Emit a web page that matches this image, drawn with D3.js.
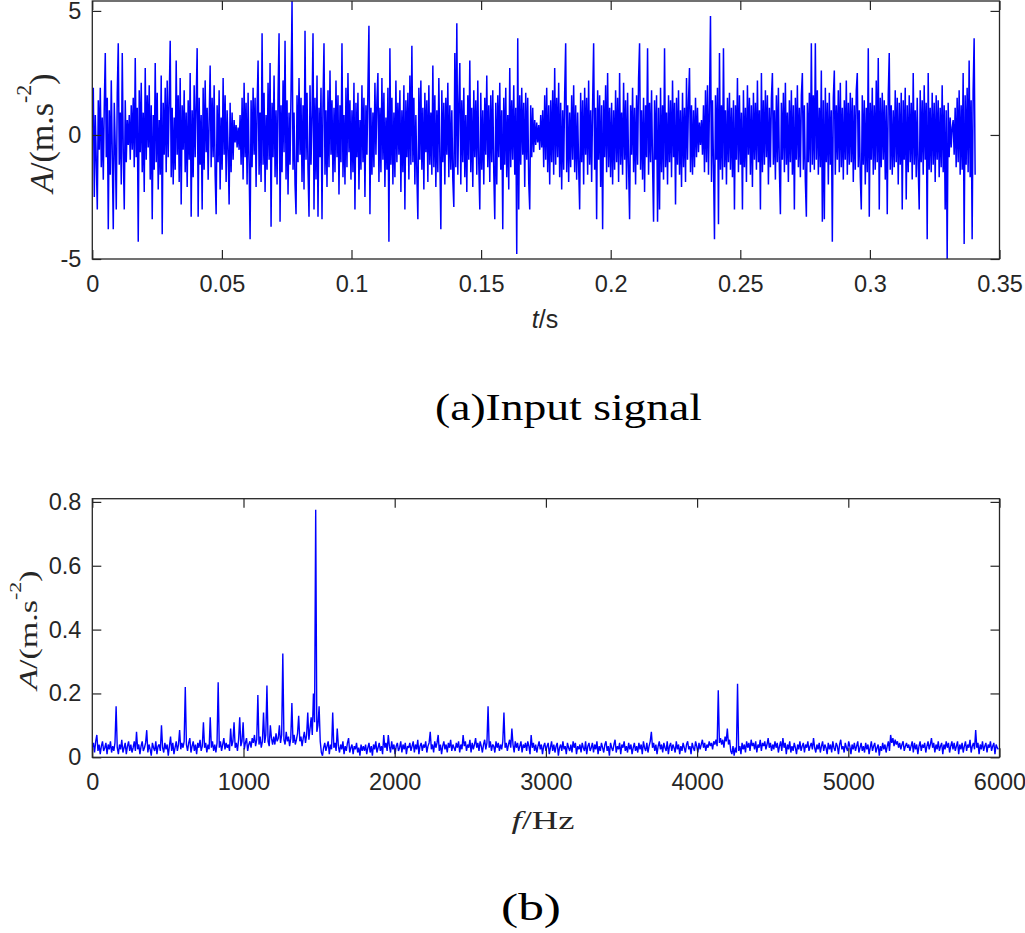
<!DOCTYPE html>
<html>
<head>
<meta charset="utf-8">
<script src="https://cdn.jsdelivr.net/npm/d3@7"></script>
<style>
  html, body { margin: 0; padding: 0; background: #fff; }
  svg { display: block; }
</style>
</head>
<body>
<div id="chart"></div>
<script>
// ── Data ──
// (a) time signal, evenly sampled from t = 0 to t = SIGNAL_END (s)
const SIGNAL_END = 0.3406;
const signalValues = [
  0.3, 1.9, -2.5, 0.8, -1.1, -3.0, 1.4, -0.6, 1.9, -1.3, 0.7, -1.8, 1.2, 3.3, -0.9, 1.5, -3.8, 1.0, -1.6, 2.2,
  -0.8, -3.8, 1.3, -0.5, -3.0, 1.7, 3.7, -1.2, 0.9, -2.0, 3.3, -0.7, -3.0, 1.4, -1.1, 0.6, -0.4, 0.8, -1.0, 1.2,
  -0.6, 1.5, -1.3, 3.1, -0.9, 1.1, -4.3, 1.8, -0.7, 2.1, -1.5, 0.9, -2.3, 2.7, -1.0, 1.6, -0.5, 2.0, -1.8, 1.2,
  -3.4, 0.8, -1.4, 2.9, -1.1, 1.7, -2.2, 0.6, -1.6, 2.4, -4.0, 1.3, -0.8, 1.9, -1.5, 2.2, -0.9, 1.4, 3.8, -1.7,
  1.1, -2.0, 0.7, -1.4, 3.0, -0.8, 1.6, -1.9, 2.3, -2.8, 1.2, -0.6, 1.8, -1.5, 0.9, -2.1, 1.4, -1.0, 2.5, -3.3,
  1.0, -1.7, 2.0, -0.9, 1.3, 3.5, -3.3, 1.5, -1.2, 0.8, -3.0, 1.9, -1.4, 2.2, -0.7, 1.1, -1.8, 0.6, 2.8, -1.3,
  1.5, -0.9, 2.0, -1.6, -3.2, 1.2, -1.1, 1.8, -2.2, 0.7, -1.4, 2.3, -0.8, 1.6, -1.9, 1.0, -0.6, -2.8, 1.3, -1.5,
  0.9, -1.0, 0.6, -0.3, 0.4, -0.5, 0.3, -0.6, 0.8, -1.2, 1.5, -1.8, 2.1, -0.9, 1.3, -2.0, 1.7, -1.1, -4.2, 1.4,
  -1.3, 1.9, -0.8, 1.5, -2.1, 1.1, 3.0, -1.6, 0.9, -1.9, 4.1, -1.2, 1.7, -2.3, 0.8, -1.4, 2.1, -1.0, 2.9, -3.7,
  1.3, -0.9, 2.4, -1.7, 1.0, -2.0, 1.6, 4.1, -3.5, 1.2, -1.5, 2.2, -0.7, 3.8, -1.8, 1.4, -2.4, 0.9, -1.2, 1.8,
  5.4, -1.4, 0.9, -2.0, -3.2, 1.6, -1.1, 2.3, -0.8, 1.5, -1.9, 1.2, -2.2, 4.2, -1.0, 1.7, -1.4, -3.3, 2.0, -1.2,
  0.8, 4.1, -3.0, 1.5, -1.8, 2.4, -3.3, 1.1, -0.9, 1.9, -3.4, 1.3, 3.7, -1.6, 1.0, -2.1, 1.8, -1.3, 2.6, -0.8,
  1.4, -1.9, 1.1, -1.5, 2.2, -0.9, 1.6, -2.4, 1.2, -1.1, 3.7, -1.7, 0.8, -2.0, 1.9, -1.3, 2.5, -0.7, 1.4, -1.8,
  1.0, -1.5, 2.1, -3.0, 1.3, -0.9, 1.7, -2.2, 0.6, -1.4, 2.0, -1.1, 1.5, -2.5, 1.2, -0.8, 1.9, 4.4, -3.2, 1.1,
  -1.6, 0.9, -1.3, 2.1, -0.8, 1.4, 2.5, -1.9, 1.1, -1.5, 2.3, -1.0, 1.7, -2.1, 0.7, -1.4, 1.9, -4.3, 3.5, -1.2,
  1.5, -2.0, 0.9, -1.7, 2.2, -1.1, 1.3, -0.8, 1.8, -2.3, 1.0, -1.5, 2.0, -3.0, 1.4, -0.9, 1.7, -1.8, 2.4, -1.2,
  3.6, -1.1, 1.5, -2.0, 0.8, -1.6, -3.4, 1.9, -1.0, 2.2, -1.4, 1.1, -2.2, 1.7, -0.7, 1.4, -1.9, 2.0, -1.2, 0.9,
  -1.6, 2.8, -1.3, 1.6, -2.1, 1.0, -1.5, 2.3, -0.9, -3.8, 1.8, -1.1, 1.3, -2.0, 1.5, -0.8, 2.1, -1.7, 1.2, -1.4,
  1.0, -1.8, -2.9, 3.3, -1.3, 4.5, -1.6, 1.2, 2.9, -2.0, 1.4, -1.1, 1.9, -1.7, 0.8, -2.3, 1.6, -1.0, 3.0, -1.5,
  1.1, -2.1, 1.8, -0.9, 1.4, -1.6, 2.2, -1.2, -3.0, 1.7, -1.4, 1.0, -2.0, 1.5, -0.8, 2.4, -1.3, 1.2, -1.9, 1.6,
  -1.1, 1.8, -1.5, -3.4, 1.3, -2.0, 1.6, -0.9, 2.1, -1.4, 1.0, -3.8, 1.5, -1.2, 1.9, -1.7, 0.8, -2.2, 2.7, -1.3,
  1.4, -1.0, 2.0, -1.6, 1.1, -4.8, 3.9, -3.0, 1.6, -1.2, 1.9, -0.8, 1.3, -2.1, 1.7, -1.0, 1.5, -1.9, -3.0, 1.2,
  -0.9, 1.1, -0.7, 0.6, -0.4, 0.5, -0.3, 0.4, -0.6, 0.8, -0.5, 1.0, -1.3, 1.6, -1.0, 1.9, -1.5, 1.2, -2.0, 1.4,
  -1.1, 1.8, -1.6, 2.7, -1.2, 1.5, -0.9, 2.1, -1.7, 1.3, -2.2, 1.0, -1.4, 1.7, 3.7, -1.5, 1.2, -1.9, 0.9, -1.3,
  1.6, -1.0, 2.0, -1.5, 1.2, -1.8, 0.9, -1.3, -3.0, 1.7, -1.1, 1.4, -2.0, 1.9, -0.8, 1.5, -1.6, 2.2, -1.2, 1.0,
  -1.9, 1.3, 3.7, -1.4, 1.1, -3.4, 1.8, -1.0, 1.6, -2.1, 1.2, -3.8, 1.4, -0.9, 2.0, -1.5, 2.5, -1.3, 1.1, -1.7,
  1.3, -2.0, 1.0, -1.4, 1.8, -1.1, 1.5, -1.9, 2.5, -1.2, 0.9, -1.6, 2.1, -1.0, 1.4, -2.2, 1.7, -1.3, -3.4, 1.2,
  -0.8, 1.9, -1.5, 1.1, -2.0, 1.6, -1.2, 2.3, 3.7, -1.4, 1.0, -1.8, 1.5, -2.3, 1.2, -0.9, 3.5, -1.6, 1.3, -1.1,
  1.8, -1.2, -3.5, 1.4, -1.0, 1.6, -3.5, 1.1, -3.0, 1.9, -1.5, 1.2, -1.8, 3.5, -1.3, 0.9, -2.0, 1.6, -1.1, 1.4,
  -1.7, 2.2, -0.9, 1.3, -2.8, 1.5, -1.2, 1.8, -1.6, 1.0, -2.1, 1.7, -1.3, 1.1, -1.9, 2.3, -1.0, 1.4, 2.7, -1.5,
  1.2, -1.6, 1.0, -1.3, 1.5, -0.9, 1.1, -0.7, 0.5, -0.4, 0.6, -0.8, 1.2, -1.5, 1.8, -1.1, 2.0, -1.6, 1.3, 4.8,
  -1.9, 1.4, -1.2, -4.2, 1.6, -1.0, 1.9, -3.6, 3.3, -1.4, 1.2, -1.8, 3.5, -1.3, 1.0, -2.0, 1.5, -1.1, 1.7, -1.4,
  1.1, -1.7, 1.4, -3.0, 1.2, -1.0, 2.3, -1.5, 1.6, -1.2, 0.9, -3.0, 1.8, -1.3, 1.1, -1.9, 2.0, -0.8, 1.5, -1.6,
  1.2, -2.1, 1.7, -1.0, 1.3, -1.4, 2.2, -1.1, 1.0, -3.0, 2.5, -1.5, 1.4, -1.2, 1.8, -0.9, 1.6, -2.0, 1.1, -1.3,
  1.5, 2.5, -1.2, 1.0, -1.8, 1.6, -1.1, 1.9, -1.4, -3.2, 1.3, -1.0, 1.7, -1.5, 2.1, -1.2, 0.9, -1.9, 1.4, -1.1,
  1.8, -1.6, 1.2, -3.0, 1.5, -1.0, 2.0, -1.3, 1.1, -1.7, 1.6, 2.5, -1.4, 1.2, -1.9, -3.3, 1.3, -1.1, 1.7, -1.5,
  3.7, -1.2, 1.6, -1.4, 3.7, -1.0, 1.8, -1.6, 1.1, -1.3, 2.6, -3.5, 1.4, -3.4, 1.9, -1.1, 1.3, -2.0, 1.7, -1.2,
  1.0, -4.3, 1.5, 2.6, -1.6, 1.2, -1.0, 1.8, -1.5, 2.1, -1.3, 1.1, -1.8, 1.4, -1.0, 2.2, -1.6, 1.3, -1.2, 1.7,
  -1.1, 1.5, -1.9, 1.2, -1.4, 1.8, 2.5, -1.3, 1.0, -1.7, -3.0, 1.6, -1.2, 1.4, -2.0, 1.1, -1.5, 3.5, -3.3, 1.3,
  -1.0, 1.9, -1.6, 1.2, -1.4, 2.2, -1.1, 3.1, -3.0, 1.5, -1.3, 1.7, -1.0, 1.4, -1.8, 1.2, -3.2, 1.6, 3.3, -1.4,
  1.2, -1.6, 1.0, -1.3, 1.8, -1.1, 1.5, -2.0, 1.3, -1.2, 1.7, -3.0, 1.4, -1.0, 1.9, -2.6, 1.2, -1.5, 1.6, -1.1,
  1.3, -1.8, 2.5, -1.2, 1.0, -1.7, 1.5, -1.3, -3.0, 1.8, -1.1, 1.4, -1.6, 2.0, -1.0, 1.3, -4.2, 2.5, -1.4, 1.1,
  -1.5, 1.7, -1.2, 1.3, -1.9, 1.6, -1.0, 1.4, -1.7, 1.1, -1.3, 2.0, -1.5, 1.2, -3.0, 1.0, -5.0, 1.3, -0.9, 0.7,
  -0.5, 0.3, 0.6, -0.8, 1.1, -1.3, 1.5, -1.1, 1.8, -1.6, 1.2, -1.4, 2.5, -4.4, 1.6, -1.2, 1.9, -1.5, 3.0, -1.7,
  1.4, -4.2, 1.8, 3.9, -1.6
];

// (b) amplitude spectrum, bins FREQ_STEP Hz apart starting at 0 Hz
const FREQ_STEP = 7.5;
const spectrumValues = [
  0.03, 0.045, 0.015, 0.05, 0.07, 0.02, 0.04, 0.01, 0.035, 0.05, 0.02, 0.03, 0.045, 0.01, 0.04, 0.025, 0.05, 0.015, 0.035, 0.02,
  0.045, 0.16, 0.03, 0.01, 0.04, 0.025, 0.055, 0.015, 0.03, 0.045, 0.01, 0.035, 0.05, 0.02, 0.04, 0.015, 0.03, 0.05, 0.02, 0.08,
  0.025, 0.04, 0.01, 0.035, 0.05, 0.02, 0.03, 0.045, 0.085, 0.015, 0.04, 0.025, 0.005, 0.045, 0.03, 0.02, 0.05, 0.01, 0.035, 0.04,
  0.02, 0.10, 0.03, 0.015, 0.045, 0.025, 0.04, 0.005, 0.035, 0.065, 0.02, 0.045, 0.01, 0.03, 0.05, 0.02, 0.04, 0.085, 0.025, 0.045,
  0.03, 0.05, 0.22, 0.04, 0.02, 0.045, 0.06, 0.015, 0.035, 0.05, 0.02, 0.04, 0.01, 0.045, 0.03, 0.055, 0.02, 0.035, 0.11, 0.03,
  0.045, 0.015, 0.04, 0.025, 0.125, 0.03, 0.05, 0.02, 0.04, 0.015, 0.045, 0.235, 0.03, 0.05, 0.02, 0.04, 0.06, 0.025, 0.045, 0.03,
  0.04, 0.02, 0.09, 0.035, 0.05, 0.11, 0.03, 0.045, 0.02, 0.055, 0.125, 0.035, 0.05, 0.11, 0.025, 0.045, 0.06, 0.02, 0.04, 0.05,
  0.03, 0.06, 0.045, 0.07, 0.035, 0.055, 0.195, 0.04, 0.065, 0.03, 0.05, 0.14, 0.045, 0.07, 0.225, 0.05, 0.035, 0.10, 0.06, 0.04,
  0.065, 0.04, 0.075, 0.05, 0.06, 0.10, 0.045, 0.07, 0.325, 0.055, 0.04, 0.08, 0.05, 0.065, 0.035, 0.06, 0.17, 0.045, 0.07, 0.04,
  0.055, 0.075, 0.13, 0.05, 0.065, 0.035, 0.06, 0.08, 0.045, 0.07, 0.14, 0.055, 0.09, 0.125, 0.07, 0.20, 0.11, 0.775, 0.08, 0.10,
  0.16, 0.05, 0.015, 0.005, 0.03, 0.045, 0.02, 0.035, 0.05, 0.01, 0.04, 0.025, 0.14, 0.03, 0.045, 0.02, 0.09, 0.035, 0.015, 0.04,
  0.025, 0.05, 0.01, 0.035, 0.02, 0.045, 0.06, 0.015, 0.03, 0.04, 0.01, 0.035, 0.025, 0.045, 0.015, 0.03, 0.005, 0.04, 0.02, 0.035,
  0.02, 0.04, 0.01, 0.03, 0.045, 0.015, 0.035, 0.005, 0.04, 0.025, 0.05, 0.015, 0.03, 0.045, 0.02, 0.035, 0.01, 0.07, 0.03, 0.045,
  0.02, 0.07, 0.035, 0.015, 0.05, 0.025, 0.04, 0.01, 0.035, 0.045, 0.02, 0.03, 0.05, 0.015, 0.04, 0.025, 0.045, 0.01, 0.035, 0.03,
  0.045, 0.02, 0.035, 0.05, 0.015, 0.04, 0.025, 0.055, 0.01, 0.035, 0.045, 0.02, 0.04, 0.03, 0.05, 0.015, 0.035, 0.045, 0.08, 0.025,
  0.04, 0.015, 0.05, 0.03, 0.045, 0.07, 0.02, 0.04, 0.01, 0.035, 0.05, 0.025, 0.04, 0.015, 0.045, 0.03, 0.055, 0.02, 0.04, 0.03,
  0.02, 0.045, 0.03, 0.05, 0.015, 0.04, 0.025, 0.07, 0.035, 0.05, 0.02, 0.04, 0.03, 0.055, 0.015, 0.045, 0.025, 0.04, 0.06, 0.03,
  0.045, 0.02, 0.05, 0.035, 0.015, 0.04, 0.055, 0.025, 0.045, 0.16, 0.03, 0.05, 0.02, 0.04, 0.035, 0.015, 0.05, 0.03, 0.045, 0.02,
  0.04, 0.025, 0.05, 0.14, 0.03, 0.045, 0.02, 0.04, 0.055, 0.03, 0.09, 0.04, 0.015, 0.05, 0.03, 0.045, 0.02, 0.035, 0.05, 0.015,
  0.04, 0.03, 0.045, 0.02, 0.05, 0.035, 0.01, 0.07, 0.03, 0.045, 0.02, 0.04, 0.015, 0.035, 0.05, 0.025, 0.04, 0.01, 0.035, 0.045,
  0.02, 0.035, 0.045, 0.01, 0.03, 0.05, 0.02, 0.04, 0.015, 0.035, 0.045, 0.005, 0.03, 0.04, 0.02, 0.05, 0.025, 0.035, 0.01, 0.045,
  0.03, 0.02, 0.04, 0.015, 0.05, 0.03, 0.045, 0.01, 0.035, 0.025, 0.04, 0.015, 0.045, 0.03, 0.02, 0.05, 0.01, 0.035, 0.045, 0.02,
  0.03, 0.045, 0.015, 0.04, 0.025, 0.05, 0.01, 0.035, 0.02, 0.045, 0.03, 0.015, 0.04, 0.05, 0.02, 0.035, 0.005, 0.045, 0.03, 0.02,
  0.04, 0.055, 0.015, 0.035, 0.025, 0.045, 0.01, 0.04, 0.03, 0.05, 0.02, 0.035, 0.015, 0.045, 0.025, 0.04, 0.01, 0.03, 0.045, 0.02,
  0.035, 0.015, 0.045, 0.025, 0.04, 0.01, 0.05, 0.03, 0.02, 0.045, 0.015, 0.035, 0.05, 0.08, 0.03, 0.045, 0.02, 0.04, 0.01, 0.035,
  0.05, 0.025, 0.04, 0.015, 0.045, 0.03, 0.02, 0.05, 0.01, 0.035, 0.045, 0.02, 0.04, 0.03, 0.015, 0.05, 0.025, 0.04, 0.01, 0.035,
  0.02, 0.045, 0.03, 0.015, 0.04, 0.05, 0.025, 0.035, 0.01, 0.045, 0.03, 0.02, 0.05, 0.035, 0.015, 0.045, 0.025, 0.04, 0.055, 0.03,
  0.045, 0.02, 0.04, 0.03, 0.05, 0.035, 0.045, 0.025, 0.05, 0.04, 0.055, 0.035, 0.21, 0.045, 0.06, 0.04, 0.055, 0.03, 0.065, 0.05,
  0.09, 0.04, 0.055, 0.02, 0.01, 0.035, 0.005, 0.03, 0.015, 0.23, 0.02, 0.035, 0.01, 0.045, 0.025, 0.04, 0.015, 0.05, 0.03, 0.045,
  0.02, 0.055, 0.035, 0.045, 0.025, 0.05, 0.015, 0.04, 0.03, 0.055, 0.02, 0.045, 0.035, 0.05, 0.025, 0.04, 0.06, 0.03, 0.045, 0.02,
  0.04, 0.025, 0.05, 0.03, 0.045, 0.015, 0.035, 0.05, 0.02, 0.06, 0.03, 0.045, 0.01, 0.04, 0.025, 0.05, 0.015, 0.035, 0.02, 0.045,
  0.03, 0.01, 0.04, 0.025, 0.05, 0.02, 0.035, 0.045, 0.015, 0.04, 0.03, 0.05, 0.02, 0.035, 0.045, 0.025, 0.06, 0.03, 0.015, 0.04,
  0.025, 0.045, 0.015, 0.035, 0.05, 0.02, 0.04, 0.03, 0.01, 0.045, 0.025, 0.04, 0.015, 0.05, 0.03, 0.02, 0.045, 0.035, 0.01, 0.04,
  0.055, 0.025, 0.035, 0.015, 0.045, 0.03, 0.02, 0.05, 0.035, 0.01, 0.04, 0.025, 0.045, 0.02, 0.035, 0.05, 0.015, 0.03, 0.045, 0.02,
  0.035, 0.015, 0.045, 0.025, 0.04, 0.01, 0.03, 0.05, 0.02, 0.035, 0.045, 0.015, 0.03, 0.04, 0.005, 0.035, 0.02, 0.045, 0.025, 0.04,
  0.015, 0.035, 0.05, 0.02, 0.07, 0.045, 0.06, 0.035, 0.055, 0.04, 0.05, 0.03, 0.045, 0.025, 0.04, 0.05, 0.02, 0.035, 0.045, 0.03,
  0.04, 0.02, 0.035, 0.05, 0.015, 0.045, 0.025, 0.04, 0.01, 0.035, 0.05, 0.02, 0.04, 0.03, 0.045, 0.015, 0.035, 0.05, 0.025, 0.04,
  0.06, 0.03, 0.045, 0.015, 0.04, 0.025, 0.05, 0.02, 0.035, 0.045, 0.01, 0.04, 0.025, 0.05, 0.03, 0.045, 0.015, 0.035, 0.05, 0.025,
  0.045, 0.02, 0.035, 0.05, 0.01, 0.04, 0.025, 0.045, 0.015, 0.035, 0.05, 0.02, 0.04, 0.03, 0.055, 0.015, 0.035, 0.045, 0.025, 0.085,
  0.03, 0.045, 0.01, 0.04, 0.025, 0.05, 0.02, 0.035, 0.045, 0.015, 0.04, 0.03, 0.05, 0.02, 0.035, 0.045, 0.01, 0.04, 0.03, 0.025
];

// tick values
const timeTicks = [0, 0.05, 0.1, 0.15, 0.2, 0.25, 0.3, 0.35];
const signalTicks = [-5, 0, 5];
const freqTicks = [0, 1000, 2000, 3000, 4000, 5000, 6000];
const ampTicks = [0, 0.2, 0.4, 0.6, 0.8];

const W = 1025, H = 933;
const SANS = "'Liberation Sans', Arial, Helvetica, sans-serif";
const SERIF = "'Liberation Serif', 'Times New Roman', Times, serif";
const AXIS_COLOR = "#262626";
const LINE_COLOR = "#0000ff";

const svg = d3.select("#chart").append("svg")
  .attr("width", W).attr("height", H)
  .attr("viewBox", `0 0 ${W} ${H}`);

/**
 * Draw one MATLAB-style boxed axes with inward ticks on all four sides.
 */
function drawPanel(cfg) {
  const { left, right, top, bottom, x, y, xTicks, yTicks, xFmt, yFmt, data, id, lineWidth } = cfg;
  x.range([left, right]);
  y.range([bottom, top]);

  const g = svg.append("g");

  g.append("clipPath").attr("id", id)
    .append("rect")
    .attr("x", left).attr("y", top)
    .attr("width", right - left).attr("height", bottom - top);

  g.append("path")
    .datum(data)
    .attr("clip-path", `url(#${id})`)
    .attr("fill", "none")
    .attr("stroke", LINE_COLOR)
    .attr("stroke-width", lineWidth)
    .attr("stroke-linejoin", "bevel")
    .attr("d", d3.line().x(d => x(d[0])).y(d => y(d[1])));

  const styleAxis = sel => {
    sel.select(".domain").remove();
    sel.selectAll(".tick line").attr("stroke", AXIS_COLOR).attr("stroke-width", 1.2);
    sel.selectAll(".tick text")
      .attr("fill", AXIS_COLOR)
      .style("font-family", SANS)
      .style("font-size", "23.5px");
  };

  g.append("g").attr("transform", `translate(0,${bottom})`)
    .call(d3.axisBottom(x).tickValues(xTicks).tickFormat(xFmt).tickSize(-9).tickPadding(16))
    .call(styleAxis);
  g.append("g").attr("transform", `translate(0,${top})`)
    .call(d3.axisTop(x).tickValues(xTicks).tickFormat("").tickSize(-9))
    .call(styleAxis);
  g.append("g").attr("transform", `translate(${left},0)`)
    .call(d3.axisLeft(y).tickValues(yTicks).tickFormat(yFmt).tickSize(-9).tickPadding(11))
    .call(styleAxis);
  g.append("g").attr("transform", `translate(${right},0)`)
    .call(d3.axisRight(y).tickValues(yTicks).tickFormat("").tickSize(-9))
    .call(styleAxis);

  // box
  g.append("rect")
    .attr("x", left).attr("y", top)
    .attr("width", right - left).attr("height", bottom - top)
    .attr("fill", "none")
    .attr("stroke", AXIS_COLOR)
    .attr("stroke-width", 1.3);

  return g;
}

const trimNum = d => String(+d.toFixed(2));

// ── (a) input signal ──
const tOfIndex = d3.scaleLinear().domain([0, signalValues.length - 1]).range([0, SIGNAL_END]);
const signalData = signalValues.map((v, i) => [tOfIndex(i), v]);

drawPanel({
  id: "clipA",
  left: 92.3, right: 999.5, top: 1, bottom: 259,
  x: d3.scaleLinear().domain([0, 0.35]),
  y: d3.scaleLinear().domain([-5, 5.4]),
  xTicks: timeTicks, yTicks: signalTicks,
  xFmt: trimNum, yFmt: d => String(d),
  data: signalData,
  lineWidth: 1.5
});

// ── (b) spectrum ──
const spectrumData = spectrumValues.map((v, i) => [i * FREQ_STEP, v]);

drawPanel({
  id: "clipB",
  left: 92.3, right: 999.5, top: 498.7, bottom: 757.3,
  x: d3.scaleLinear().domain([0, 6000]),
  y: d3.scaleLinear().domain([0, 0.81]),
  xTicks: freqTicks, yTicks: ampTicks,
  xFmt: d => String(d), yFmt: trimNum,
  data: spectrumData,
  lineWidth: 1.4
});

// ── axis labels ──
// t/s (sans)
const tl = svg.append("text")
  .attr("x", 545).attr("y", 328)
  .attr("text-anchor", "middle")
  .style("font-family", SANS).style("font-size", "25px")
  .attr("fill", AXIS_COLOR);
tl.append("tspan").style("font-style", "italic").text("t");
tl.append("tspan").text("/s");

// f/Hz (serif)
const fl = svg.append("text")
  .attr("x", 543).attr("y", 829)
  .attr("text-anchor", "middle")
  .attr("textLength", 63).attr("lengthAdjust", "spacingAndGlyphs")
  .style("font-family", SERIF).style("font-size", "25px")
  .attr("fill", AXIS_COLOR);
fl.append("tspan").style("font-style", "italic").text("f");
fl.append("tspan").text("/Hz");

// y labels A/(m.s^-2)
function yLabel(cx, cy, sx) {
  const t = svg.append("text")
    .attr("transform", `translate(${cx},${cy}) scale(${sx},1) rotate(-90)`)
    .attr("text-anchor", "middle")
    .style("font-family", SERIF).style("font-size", "34px")
    .attr("fill", AXIS_COLOR);
  t.append("tspan").style("font-style", "italic").text("A");
  t.append("tspan").text("/(m.s");
  t.append("tspan").attr("dy", -22).style("font-size", "22px").text("-2");
  t.append("tspan").attr("dy", 22).text(")");
}
yLabel(53, 133, 1);
yLabel(37, 630, 0.72);

// ── captions ──
svg.append("text")
  .attr("x", 568.5).attr("y", 420)
  .attr("text-anchor", "middle")
  .attr("textLength", 267).attr("lengthAdjust", "spacingAndGlyphs")
  .style("font-family", SERIF).style("font-size", "38px")
  .attr("fill", "#000")
  .text("(a)Input signal");

svg.append("text")
  .attr("x", 531).attr("y", 920)
  .attr("text-anchor", "middle")
  .attr("textLength", 60).attr("lengthAdjust", "spacingAndGlyphs")
  .style("font-family", SERIF).style("font-size", "38px")
  .attr("fill", "#000")
  .text("(b)");
</script>
</body>
</html>
